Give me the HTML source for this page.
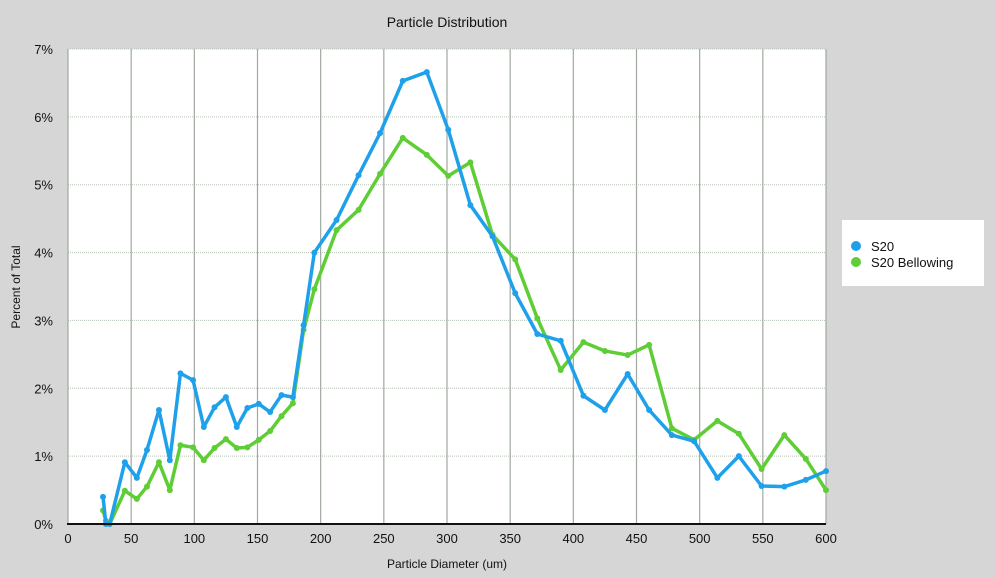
<!DOCTYPE html>
<html><head><meta charset="utf-8">
<style>
html,body{margin:0;padding:0;background:#d6d6d6;}
svg{display:block;font-family:"Liberation Sans",sans-serif;}
</style></head>
<body>
<svg id="chart" width="996" height="578">
<rect x="0" y="0" width="996" height="578" fill="#d6d6d6"/>
<text x="447" y="27" font-size="14" text-anchor="middle" fill="#111">Particle Distribution</text>
<rect x="68" y="49" width="758" height="475" fill="#fff"/>
<g id="grid"></g>
<g id="series"></g>
<g id="axes"></g>
<text x="447" y="568" font-size="12" text-anchor="middle" fill="#111">Particle Diameter (um)</text>
<text x="20" y="287" font-size="12" text-anchor="middle" fill="#111" transform="rotate(-90 20 287)">Percent of Total</text>
<g>
<rect x="842" y="220" width="142" height="66" fill="#fff"/>
<g><circle cx="856" cy="246" r="5" fill="#1fa0ea"/><text x="871" y="251" font-size="13" fill="#111">S20</text></g>
<g><circle cx="856" cy="262" r="5" fill="#5fcd35"/><text x="871" y="267" font-size="13" fill="#111">S20 Bellowing</text></g>
</g>
</svg>
<script>
const xValues=[27.7,30,33,45,54.5,62.5,72,80.6,89,99,107.5,116,125,133.6,142,151,160,169,178,186.5,195,212.6,230,247,265,284,301,318.5,336,354,371.5,390,408,425,443,460,478,495.6,514,531,549,567,584,600];
const s20=[0.40,0,0,0.91,0.68,1.09,1.68,0.94,2.22,2.12,1.43,1.72,1.87,1.43,1.71,1.77,1.65,1.90,1.87,2.93,4.0,4.48,5.14,5.76,6.53,6.66,5.81,4.70,4.24,3.40,2.80,2.70,1.89,1.68,2.21,1.68,1.31,1.22,0.68,1.00,0.56,0.55,0.65,0.78];
const s20Bellowing=[0.20,0.05,0,0.49,0.37,0.55,0.91,0.50,1.16,1.13,0.94,1.12,1.25,1.12,1.13,1.24,1.37,1.59,1.78,2.86,3.46,4.33,4.63,5.16,5.69,5.44,5.13,5.33,4.26,3.90,3.03,2.27,2.68,2.55,2.49,2.64,1.41,1.24,1.52,1.33,0.81,1.31,0.96,0.50];
const xTicks=[0,50,100,150,200,250,300,350,400,450,500,550,600];
const yTicks=[0,1,2,3,4,5,6,7];
const NS="http://www.w3.org/2000/svg";
const X0=68,X1=826,Y0=524,Y1=49;
function sx(v){return X0+(v/600)*(X1-X0);}
function sy(v){return Y0-(v/7)*(Y0-Y1);}
function mk(tag,attrs,parent){const e=document.createElementNS(NS,tag);for(const k in attrs)e.setAttribute(k,attrs[k]);parent.appendChild(e);return e;}
const grid=document.getElementById('grid'),axes=document.getElementById('axes'),ser=document.getElementById('series');
yTicks.forEach(t=>{
  if(t>0){const l=mk('line',{x1:X0,x2:X1,y1:sy(t),y2:sy(t),stroke:'#b8c4b8','stroke-width':1,'stroke-dasharray':'1 1'},grid);
  
  }
  const tx=mk('text',{x:X0-15,y:sy(t)+5,'font-size':13,'text-anchor':'end',fill:'#111'},axes);
  tx.textContent=t+'%';
  
  
});
xTicks.forEach(t=>{
  const l=mk('line',{x1:sx(t),x2:sx(t),y1:Y1,y2:Y0,stroke:'#a0a8a0','stroke-width':1.2},grid);
  
  
  const tx=mk('text',{x:sx(t),y:Y0+19,'font-size':13,'text-anchor':'middle',fill:'#111'},axes);
  tx.textContent=t;
  
  
});
const ax=mk('line',{x1:X0-1,x2:X1,y1:Y0,y2:Y0,stroke:'#111','stroke-width':2},axes);


function drawSeries(vals,color,name){
  const pts=xValues.map((x,i)=>sx(x)+','+sy(vals[i])).join(' ');
  const pl=mk('polyline',{points:pts,fill:'none',stroke:color,'stroke-width':3.5,'stroke-linejoin':'round'},ser);
  
  
  xValues.forEach((x,i)=>{
    const c=mk('circle',{cx:sx(x),cy:sy(vals[i]),r:3,fill:color},ser);
    
    
  });
}
drawSeries(s20Bellowing,'#5fcd35','s20-bellowing');
drawSeries(s20,'#1fa0ea','s20');
</script>
</body></html>
